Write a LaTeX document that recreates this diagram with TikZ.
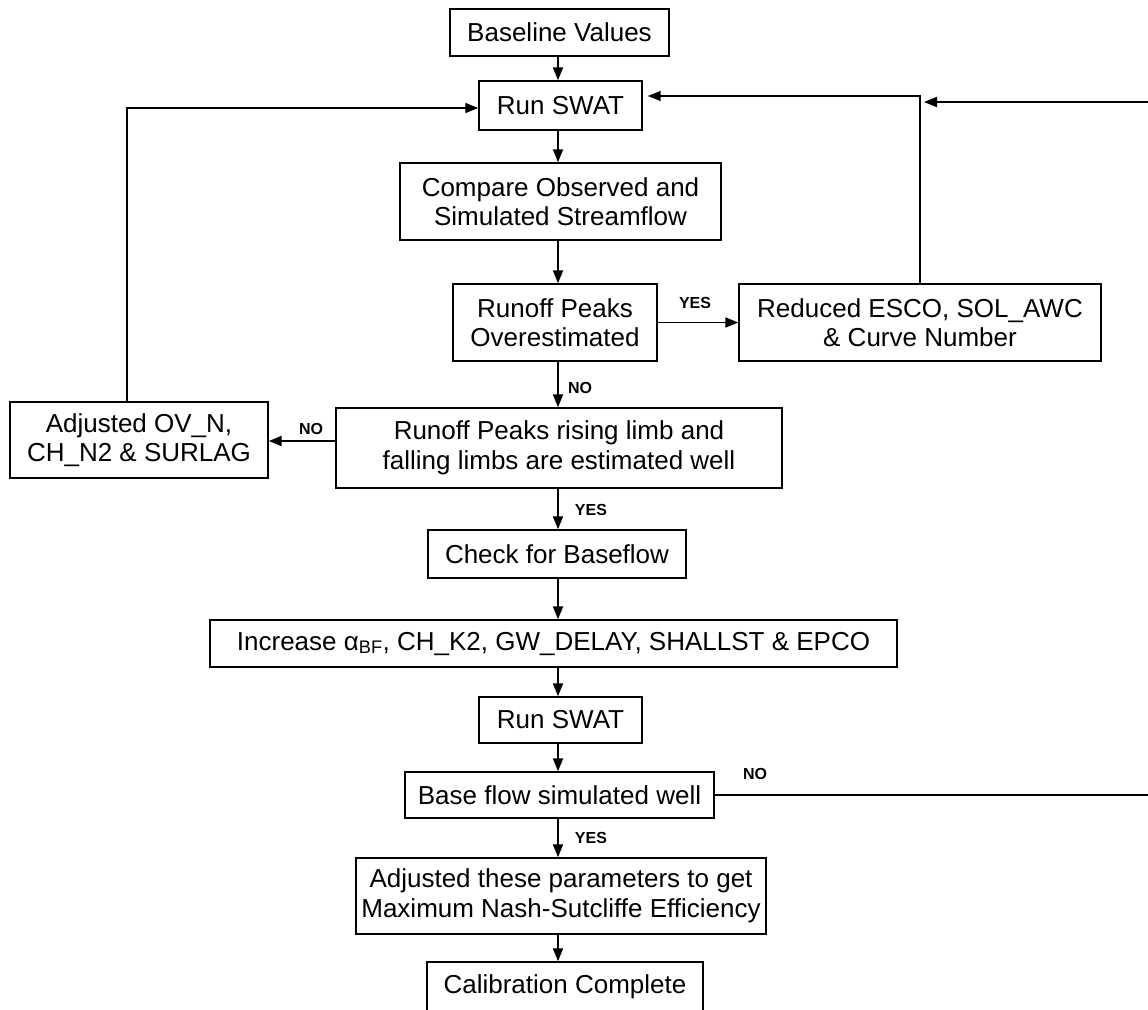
\documentclass[tikz,border=0pt]{standalone}
\usepackage{fontspec}
\setmainfont{Liberation Sans}
\usetikzlibrary{arrows.meta}
\begin{document}
\begin{tikzpicture}[x=1pt,y=-1pt,
  box/.style={draw=black, line width=1.4pt, inner sep=0pt, align=center, font=\fontsize{26}{29.5}\selectfont},
  conn/.style={line width=1.9pt, -{Triangle[length=13pt,width=10pt]}},
  thinconn/.style={line width=1.3pt, -{Triangle[length=13pt,width=10pt]}},
  lbl/.style={font=\fontsize{16}{19}\selectfont\bfseries, inner sep=0pt}]
\useasboundingbox (0,0) rectangle (1148,1009);
\clip (0,0) rectangle (1148,1009);
\coordinate (ax) at (558,0);
\coordinate (lx) at (127,0);
\coordinate (rj) at (924,102);

\node[box, minimum width=219pt, minimum height=47pt] (base) at (559.5,32.5) {Baseline Values};
\node[box, minimum width=163pt, minimum height=49pt] (run1) at (560.5,105.5) {Run SWAT};
\node[box, minimum width=321pt, minimum height=77pt] (cmp) at (560.5,201.5) {Compare Observed and\\Simulated Streamflow};
\node[box, minimum width=204pt, minimum height=77pt] (over) at (555,322.5) {Runoff Peaks\\Overestimated};
\node[box, minimum width=362pt, minimum height=77pt] (red) at (920,322.5) {Reduced ESCO, SOL\_AWC\\\& Curve Number};
\node[box, minimum width=258pt, minimum height=76pt] (adj) at (139,440) {Adjusted OV\_N,\\CH\_N2 \& SURLAG};
\node[box, minimum width=446pt, minimum height=80pt] (ris) at (559,448) {Runoff Peaks rising limb and\\falling limbs are estimated well};
\node[box, minimum width=258pt, minimum height=48pt] (chk) at (557,554) {Check for Baseflow};
\node[box, minimum width=687pt, minimum height=47pt] (inc) at (553.5,643.5) {Increase α\textsubscript{BF}, CH\_K2, GW\_DELAY, SHALLST \& EPCO};
\node[box, minimum width=163pt, minimum height=46pt] (run2) at (560.5,720) {Run SWAT};
\node[box, minimum width=309pt, minimum height=46pt] (bf) at (559.5,795) {Base flow simulated well};
\node[box, minimum width=410pt, minimum height=76pt] (adp) at (561,896) {Adjusted these parameters to get\\Maximum Nash-Sutcliffe Efficiency};
\node[box, minimum width=276pt, minimum height=50pt] (cal) at (565,987) {Calibration Complete};

\draw[conn] (base.south -| ax) -- (run1.north -| ax);
\draw[conn] (run1.south -| ax) -- (cmp.north -| ax);
\draw[conn] (cmp.south -| ax) -- (over.north -| ax);
\draw[conn] (over.south -| ax) -- (ris.north -| ax);
\draw[conn] (ris.south -| ax) -- (chk.north -| ax);
\draw[conn] (chk.south -| ax) -- (inc.north -| ax);
\draw[conn] (inc.south -| ax) -- (run2.north -| ax);
\draw[conn] (run2.south -| ax) -- (bf.north -| ax);
\draw[conn] (bf.south -| ax) -- (adp.north -| ax);
\draw[conn] (adp.south -| ax) -- (cal.north -| ax);

\draw[conn] (over.east) -- (red.west);
\draw[thinconn, shorten >=5pt] (red.north) |- ([yshift=9.5pt]run1.east);
\draw[thinconn] (adj.north -| lx) |- ([yshift=-2.5pt]run1.west);
\draw[conn] ([yshift=7pt]ris.west) -- ([yshift=7pt]ris.west -| adj.east);
\draw[conn] (bf.east) -| ([xshift=250pt]rj) -- (rj);

\node[lbl] (lyes1) at (695,303) {YES};
\node[lbl] (lno1) at (580,388) {NO};
\node[lbl] (lno2) at (311,429) {NO};
\node[lbl] (lyes2) at (591,510) {YES};
\node[lbl] (lno3) at (755,774) {NO};
\node[lbl] (lyes3) at (591,838) {YES};
\end{tikzpicture}
\end{document}
